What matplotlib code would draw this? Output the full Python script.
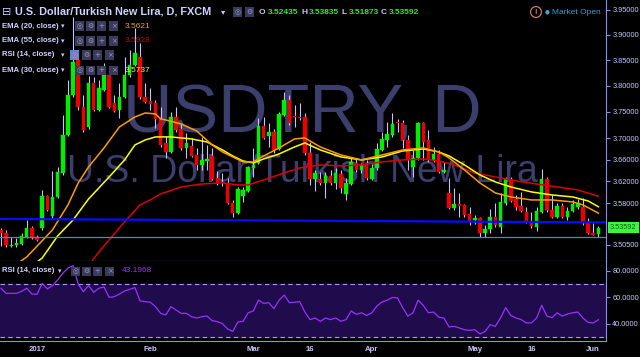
import matplotlib
matplotlib.use("Agg")
import matplotlib.pyplot as plt
import numpy as np
import pandas as pd
from matplotlib.patches import Rectangle
from matplotlib.ticker import FixedLocator, NullLocator, FuncFormatter

# Tagesbalken USDTRY (FXCM), Werktage
dates = pd.bdate_range("2016-12-22", "2017-06-02")

opens = [3.5319, 3.5265, 3.5033, 3.5051, 3.5069, 3.5194, 3.5355, 3.5194, 3.5355, 3.5933,
         3.5571, 3.5915, 3.6355, 3.7063, 3.7823, 3.8500, 3.7593, 3.7214, 3.8054, 3.7536,
         3.7919, 3.8209, 3.7669, 3.7536, 3.7785, 3.8209, 3.8403, 3.8559, 3.7785, 3.7708,
         3.7669, 3.7365, 3.6913, 3.6745, 3.7403, 3.7176, 3.6819, 3.6856, 3.6689, 3.6503,
         3.6577, 3.6670, 3.6263, 3.6189, 3.6171, 3.5806, 3.5625, 3.5933, 3.6025, 3.6448,
         3.6540, 3.7232, 3.7044, 3.7120, 3.6801, 3.7441, 3.7727, 3.7422, 3.7403, 3.7403,
         3.6726, 3.6244, 3.6244, 3.6171, 3.6300, 3.6171, 3.6337, 3.5970, 3.6152, 3.6540,
         3.6411, 3.6540, 3.6244, 3.6448, 3.6782, 3.6969, 3.7063, 3.7308, 3.7289, 3.6969,
         3.6466, 3.6633, 3.7289, 3.6969, 3.6596, 3.6707, 3.6374, 3.5988, 3.5715, 3.5788,
         3.5770, 3.5607, 3.5498, 3.5534, 3.5265, 3.5337, 3.5553, 3.5372, 3.5806, 3.6244,
         3.5878, 3.5752, 3.5643, 3.5480, 3.5372, 3.5643, 3.6244, 3.5679, 3.5553, 3.5752,
         3.5553, 3.5661, 3.5733, 3.5733, 3.5462, 3.5265, 3.52435]
highs = [3.5355, 3.5319, 3.5194, 3.5176, 3.5265, 3.5498, 3.5390, 3.5229, 3.6043, 3.5951,
         3.6392, 3.6466, 3.7441, 3.8112, 3.9350, 3.8696, 3.7823, 3.8190, 3.8170, 3.8112,
         3.8442, 3.8364, 3.7823, 3.8054, 3.8559, 3.8696, 3.9131, 3.8834, 3.8054, 3.7957,
         3.7727, 3.7593, 3.7044, 3.7498, 3.7593, 3.7289, 3.7101, 3.7007, 3.6819, 3.7026,
         3.6875, 3.6819, 3.6392, 3.6355, 3.6263, 3.5860, 3.6098, 3.6098, 3.6485, 3.6819,
         3.7384, 3.7403, 3.7289, 3.7176, 3.7498, 3.7880, 3.7823, 3.7631, 3.7669, 3.7479,
         3.6931, 3.6411, 3.6374, 3.6374, 3.6411, 3.6448, 3.6411, 3.6263, 3.6633, 3.6633,
         3.6540, 3.6596, 3.6522, 3.6913, 3.7120, 3.7308, 3.7479, 3.7365, 3.7346, 3.7063,
         3.6782, 3.7308, 3.7308, 3.7157, 3.6838, 3.6782, 3.6559, 3.6263, 3.6080, 3.5988,
         3.5788, 3.5733, 3.5589, 3.5553, 3.5408, 3.5697, 3.5806, 3.5988, 3.6281, 3.6281,
         3.5951, 3.6006, 3.5733, 3.5643, 3.5733, 3.6429, 3.6281, 3.5951, 3.5806, 3.5806,
         3.5733, 3.5860, 3.5878, 3.5896, 3.5534, 3.5444, 3.53835]
lows = [3.5033, 3.5015, 3.5015, 3.5015, 3.5051, 3.5176, 3.5158, 3.5122, 3.5319, 3.5661,
        3.5534, 3.5896, 3.6318, 3.7044, 3.7785, 3.7536, 3.7120, 3.7176, 3.7517, 3.7517,
        3.7900, 3.7574, 3.7498, 3.7384, 3.7766, 3.8170, 3.8384, 3.7746, 3.7669, 3.7536,
        3.7195, 3.6838, 3.6633, 3.6726, 3.7120, 3.6782, 3.6633, 3.6652, 3.6411, 3.6411,
        3.6411, 3.6226, 3.6134, 3.6116, 3.5788, 3.5553, 3.5607, 3.5824, 3.6006, 3.6281,
        3.6522, 3.6988, 3.6838, 3.6726, 3.6782, 3.7422, 3.7251, 3.7214, 3.7346, 3.6689,
        3.6134, 3.6025, 3.6134, 3.5896, 3.6134, 3.6061, 3.5988, 3.5860, 3.6134, 3.6374,
        3.6355, 3.6226, 3.6226, 3.6411, 3.6763, 3.6838, 3.7026, 3.7120, 3.6819, 3.6411,
        3.6281, 3.6596, 3.6596, 3.6559, 3.6559, 3.6355, 3.6355, 3.5697, 3.5679, 3.5553,
        3.5553, 3.5408, 3.5426, 3.5194, 3.5194, 3.5265, 3.5372, 3.5265, 3.5770, 3.5824,
        3.5679, 3.5643, 3.5444, 3.5355, 3.5301, 3.5625, 3.5643, 3.5534, 3.5534, 3.5534,
        3.5498, 3.5643, 3.5697, 3.5408, 3.5247, 3.5220, 3.51873]
closes = [3.5265, 3.5051, 3.5051, 3.5087, 3.5211, 3.5355, 3.5176, 3.5140, 3.5933, 3.5679,
          3.5915, 3.6374, 3.7063, 3.7823, 3.8461, 3.7593, 3.7157, 3.8054, 3.7536, 3.7957,
          3.8209, 3.7593, 3.7517, 3.7785, 3.8209, 3.8403, 3.8637, 3.7785, 3.7689, 3.7650,
          3.7365, 3.6875, 3.6745, 3.7403, 3.7157, 3.6819, 3.6913, 3.6670, 3.6503, 3.6596,
          3.6614, 3.6244, 3.6171, 3.6161, 3.5806, 3.5625, 3.6061, 3.6043, 3.6466, 3.6503,
          3.7232, 3.7007, 3.7120, 3.6782, 3.7460, 3.7727, 3.7289, 3.7394, 3.7384, 3.6726,
          3.6244, 3.6355, 3.6171, 3.6300, 3.6171, 3.6355, 3.6080, 3.6171, 3.6559, 3.6411,
          3.6503, 3.6263, 3.6448, 3.6801, 3.6988, 3.7082, 3.7270, 3.7280, 3.6969, 3.6596,
          3.6633, 3.7289, 3.6931, 3.6614, 3.6707, 3.6374, 3.6411, 3.5715, 3.5788, 3.5752,
          3.5589, 3.5480, 3.5534, 3.5265, 3.5337, 3.5553, 3.5408, 3.5824, 3.6244, 3.5842,
          3.5733, 3.5661, 3.5462, 3.5390, 3.5661, 3.6244, 3.5679, 3.5553, 3.5752, 3.5553,
          3.5661, 3.5788, 3.5806, 3.5444, 3.5265, 3.5229, 3.53592]

ema20_idx = [0, 5, 10, 13, 15, 17, 20, 23, 26, 28, 30, 31, 32, 35, 38, 41, 43, 45, 47, 49,
             51, 54, 57, 59, 62, 66, 70, 74, 78, 82, 85, 87, 90, 93, 96, 99, 103, 107, 111, 113, 116]
ema20_val = [3.4520, 3.4837, 3.5319, 3.5770, 3.6171, 3.6466, 3.6819, 3.7214, 3.7403, 3.7479,
             3.7460, 3.7365, 3.7346, 3.7270, 3.7138, 3.6875, 3.6745, 3.6652, 3.6559, 3.6559,
             3.6670, 3.6819, 3.6988, 3.7007, 3.6838, 3.6689, 3.6596, 3.6689, 3.6782, 3.6819,
             3.6745, 3.6633, 3.6411, 3.6171, 3.5988, 3.5915, 3.5860, 3.5860, 3.5824, 3.5770, 3.5621]
ema30_idx = [0, 8, 11, 14, 17, 21, 24, 26, 28, 30, 33, 37, 40, 43, 45, 47, 49, 51, 54, 57,
             59, 62, 66, 70, 74, 78, 82, 85, 87, 90, 93, 96, 99, 103, 107, 111, 114, 116]
ema30_val = [3.4258, 3.4819, 3.5211, 3.5498, 3.5878, 3.6281, 3.6596, 3.6875, 3.6969, 3.7026,
             3.7026, 3.6988, 3.6931, 3.6782, 3.6670, 3.6577, 3.6540, 3.6614, 3.6707, 3.6838,
             3.6913, 3.6782, 3.6652, 3.6596, 3.6652, 3.6763, 3.6801, 3.6745, 3.6670, 3.6503,
             3.6318, 3.6189, 3.6098, 3.6006, 3.5951, 3.5915, 3.5842, 3.5737]
ema55_idx = [0, 17, 19, 21, 24, 27, 29, 31, 35, 39, 43, 46, 48, 51, 55, 58, 62, 66, 70, 74,
             78, 82, 85, 88, 92, 96, 100, 104, 108, 112, 116]
ema55_val = [3.3569, 3.4678, 3.4925, 3.5140, 3.5462, 3.5770, 3.5860, 3.5970, 3.6098, 3.6152,
             3.6171, 3.6134, 3.6134, 3.6226, 3.6355, 3.6448, 3.6503, 3.6485, 3.6503, 3.6559,
             3.6596, 3.6614, 3.6577, 3.6503, 3.6355, 3.6281, 3.6208, 3.6152, 3.6098, 3.6043, 3.5928]

rsi = [66.8, 63, 63, 63, 64.5, 66.8, 62.5, 62.3, 70.5, 66.3,
       68.8, 73, 78, 82, 83.8, 69.8, 64.3, 68.8, 63.8, 66.8,
       67.8, 60, 60.5, 62.5, 64.8, 66, 67.3, 57.3, 56.8, 56.3,
       53, 48, 46.8, 53, 50.5, 48, 48, 45.5, 44.5, 45.5,
       46, 42.5, 41.8, 40.3, 36.3, 34.4, 41.5, 42, 48.4, 49.8,
       58, 55.5, 56, 51.5, 57.9, 61.7, 56, 56.3, 56.8, 49,
       43.3, 44.5, 42, 44.5, 43.3, 44.5, 42, 43.3, 49.8, 47.2,
       48.4, 46.4, 48.4, 53.5, 56.5, 57.9, 59.9, 59.6, 52.3, 45.9,
       48.4, 57.9, 54, 48.4, 49, 45.1, 44.5, 37.8, 38.2, 37,
       35.7, 35.2, 35.7, 32.5, 34.4, 39.5, 38.2, 44.5, 52.3, 46.4,
       44.5, 43.3, 40.8, 40.8, 44.5, 54, 45.9, 44.8, 48.4, 45.9,
       47.5, 48.4, 49, 44.5, 41.2, 40.8, 43.1968]

# gezeichnete Linien
trend_idx = [0, 116]
trend_val = [3.5516, 3.5454]
support_val = 3.5194

price_ticks = [3.95, 3.90, 3.85, 3.80, 3.75, 3.70, 3.66, 3.62, 3.58, 3.505]
rsi_ticks = [80, 60, 40]
date_ticks = ["2017-01-02", "2017-02-01", "2017-03-01", "2017-03-16",
              "2017-04-03", "2017-05-01", "2017-05-16", "2017-06-01"]
date_labels = ["2017", "Feb", "Mar", "16", "Apr", "May", "16", "Jun"]

# Farben
GREEN = "#00ee00"
RED = "#ee0000"
WICK = "#c4c4ff"
AXIS = "#8c8cf0"
LABEL = "#c8c8ff"
WM = "#3c3e6e"
PURPLE = "#9632ff"
FAM = ["Liberation Sans", "DejaVu Sans"]

W, H = 640, 357


def fx(px):
    return px / W


def fy(py):
    return 1 - py / H


fig = plt.figure(figsize=(6.4, 3.57), dpi=100, facecolor="black")
ax = fig.add_axes([0, fy(260.7), fx(606), 260.7 / H])
ax2 = fig.add_axes([0, fy(341), fx(606), (341 - 260.7) / H], sharex=ax)

x = np.arange(len(dates))
o, h, l, c = map(np.array, (opens, highs, lows, closes))
up = c >= o
cols = np.where(up, GREEN, RED)

# Preisfenster
ax.set_facecolor("black")
ax.set_yscale("log")
ax.set_xlim(-0.194, 117.48)
ax.set_ylim(3.4771, 3.9691)

ax.text(fx(302), fy(132), "USDTRY, D", transform=fig.transFigure, fontsize=49.3,
        color=WM, ha="center", va="baseline", family=FAM, zorder=0)
ax.text(fx(302), fy(182), "U.S. Dollar/Turkish New Lira", transform=fig.transFigure,
        fontsize=27, color=WM, ha="center", va="baseline", family=FAM, zorder=0)

ax.vlines(x, l, h, color=WICK, linewidth=0.8, zorder=2)
ax.bar(x, np.abs(c - o), bottom=np.minimum(o, c), width=0.68, color=cols,
       edgecolor=cols, linewidth=0.3, zorder=3)

ax.plot(ema55_idx, ema55_val, color="#dd0000", lw=1.1, zorder=5)
ax.plot(ema30_idx, ema30_val, color="#ffff00", lw=1.1, zorder=5)
ax.plot(ema20_idx, ema20_val, color="#ff9a00", lw=1.1, zorder=5)

# Trendlinie bis zu den Rändern verlängern
xl = np.array(ax.get_xlim())
slope = (trend_val[1] - trend_val[0]) / (trend_idx[1] - trend_idx[0])
ax.plot(xl, trend_val[0] + slope * (xl - trend_idx[0]), color="#0010ff", lw=1.6, zorder=6)
ax.axhline(support_val, color="#3f8fc0", lw=0.9, zorder=6)

ax.yaxis.set_major_locator(FixedLocator(price_ticks))
ax.yaxis.set_minor_locator(NullLocator())
ax.yaxis.set_major_formatter(FuncFormatter(lambda v, p: f"{v:.5f}"))
ax.yaxis.tick_right()
ax.tick_params(axis="y", colors=AXIS, labelcolor=LABEL, labelsize=5.3,
               length=3, width=0.8, pad=1.5)
ax.tick_params(axis="x", length=0, labelbottom=False)
for s in ["left", "top"]:
    ax.spines[s].set_visible(False)
ax.spines["right"].set_color(AXIS)
ax.spines["bottom"].set_color(AXIS)
for lab in ax.get_yticklabels():
    lab.set_family(FAM)

# letzter Kurs rechts
ax.text(1.0066, closes[-1], f"{closes[-1]:.5f}", transform=ax.get_yaxis_transform(),
        ha="left", va="center", fontsize=5.3, color="#1f4f1f", family=FAM,
        bbox=dict(boxstyle="square,pad=0.3", fc="#33ff33", ec="none"), zorder=10)

# RSI-Fenster
ax2.set_facecolor("black")
ax2.set_ylim(27.24, 87.5)
ax2.axhspan(30, 70, color="#200c4c", zorder=0)
ax2.axhline(70, color="#a99cf5", lw=0.8, ls=(0, (4, 3)), zorder=1)
ax2.axhline(30, color="#a99cf5", lw=0.8, ls=(0, (4, 3)), zorder=1)
ax2.plot(x, rsi, color=PURPLE, lw=0.9, zorder=3)
ax2.yaxis.set_major_locator(FixedLocator(rsi_ticks))
ax2.yaxis.set_major_formatter(FuncFormatter(lambda v, p: f"{v:.4f}"))
ax2.yaxis.tick_right()
ax2.tick_params(axis="y", colors=AXIS, labelcolor=LABEL, labelsize=5.3,
                length=3, width=0.8, pad=1.5)
for s in ["left", "top"]:
    ax2.spines[s].set_visible(False)
ax2.spines["right"].set_color(AXIS)
ax2.spines["bottom"].set_color(AXIS)

pos = [dates.get_loc(pd.Timestamp(d)) for d in date_ticks]
ax2.set_xticks(pos)
ax2.set_xticklabels(date_labels, fontweight="bold", family=FAM)
ax2.tick_params(axis="x", colors=LABEL, labelsize=5.6, length=0, pad=3.5)
for lab in ax2.get_yticklabels():
    lab.set_family(FAM)


# Kopfzeile und Legenden
def icon_box(x0, yc, glyph, fc="#3a3a5c", gc="#9a9ac0"):
    fig.add_artist(Rectangle((fx(x0), fy(yc + 4.5)), 9 / W, 9 / H,
                             transform=fig.transFigure, fc=fc, ec="none", zorder=4))
    fig.text(fx(x0 + 4.5), fy(yc), glyph, ha="center", va="center", fontsize=5,
             color=gc, family=["DejaVu Sans"], zorder=5)


fig.text(fx(2), fy(12), "⊟", fontsize=8, color=LABEL, va="center", family=["DejaVu Sans"])
fig.text(fx(15), fy(12), "U.S. Dollar/Turkish New Lira, D, FXCM", fontsize=7.8,
         fontweight="bold", color="#d2d2ff", va="center", family=FAM)
fig.text(fx(221), fy(12), "▾", fontsize=6, color=LABEL, va="center", family=["DejaVu Sans"])
icon_box(233, 12, "◎")
icon_box(245, 12, "⚙")

ohlc = [("O", 259, opens[-1], 268), ("H", 301, highs[-1], 309),
        ("L", 342, lows[-1], 349), ("C", 381, closes[-1], 389)]
for key, kx, val, vx in ohlc:
    fig.text(fx(kx), fy(12), key, fontsize=6, fontweight="bold", color=LABEL,
             va="center", family=FAM)
    fig.text(fx(vx), fy(12), f"{val:.5f}", fontsize=6, fontweight="bold", color="#22ee22",
             va="center", family=FAM)

fig.text(fx(536), fy(12), "!", fontsize=5.5, fontweight="bold", color="#e88070",
         ha="center", va="center", family=FAM,
         bbox=dict(boxstyle="circle,pad=0.25", fc="none", ec="#e88070", lw=0.8))
fig.text(fx(547), fy(12), "●", fontsize=4, color="#3aa3e3", ha="center", va="center",
         family=["DejaVu Sans"])
fig.text(fx(552), fy(12), "Market Open", fontsize=6, color="#3d9ad6", va="center", family=FAM)

rows = [("EMA (20, close)", 26, "3.5621", "#ff9a00"),
        ("EMA (55, close)", 41, "3.5928", "#cc0000"),
        ("RSI (14, close)", 55, None, None),
        ("EMA (30, close)", 70, "3.5737", "#ffff00")]
for name, ry, val, vc in rows:
    fig.text(fx(2), fy(ry), name, fontsize=5.6, fontweight="bold", color="#d0d0ff",
             va="center", family=FAM)
    fig.text(fx(61), fy(ry), "▾", fontsize=5, color=LABEL, va="center", family=["DejaVu Sans"])
    if val is None:
        icon_box(70, ry, "◎", fc="#5f86d6", gc="#ff66aa")
        for bx, g in zip([82, 93, 105], ["⚙", "+", "×"]):
            icon_box(bx, ry, g)
    else:
        for bx, g in zip([75, 86, 97, 109], ["◎", "⚙", "+", "×"]):
            icon_box(bx, ry, g)
        fig.text(fx(125), fy(ry), val, fontsize=6, color=vc, va="center", family=FAM)

fig.text(fx(2), fy(271), "RSI (14, close)", fontsize=5.6, fontweight="bold", color="#d0d0ff",
         va="center", family=FAM)
fig.text(fx(58), fy(271), "▾", fontsize=5, color=LABEL, va="center", family=["DejaVu Sans"])
for bx, g in zip([71, 82, 93, 105], ["◎", "⚙", "+", "×"]):
    icon_box(bx, 271, g)
fig.text(fx(122), fy(271), f"{rsi[-1]:.4f}", fontsize=6, color=PURPLE, va="center", family=FAM)

fig.savefig("out.png", dpi=100, facecolor="black")
